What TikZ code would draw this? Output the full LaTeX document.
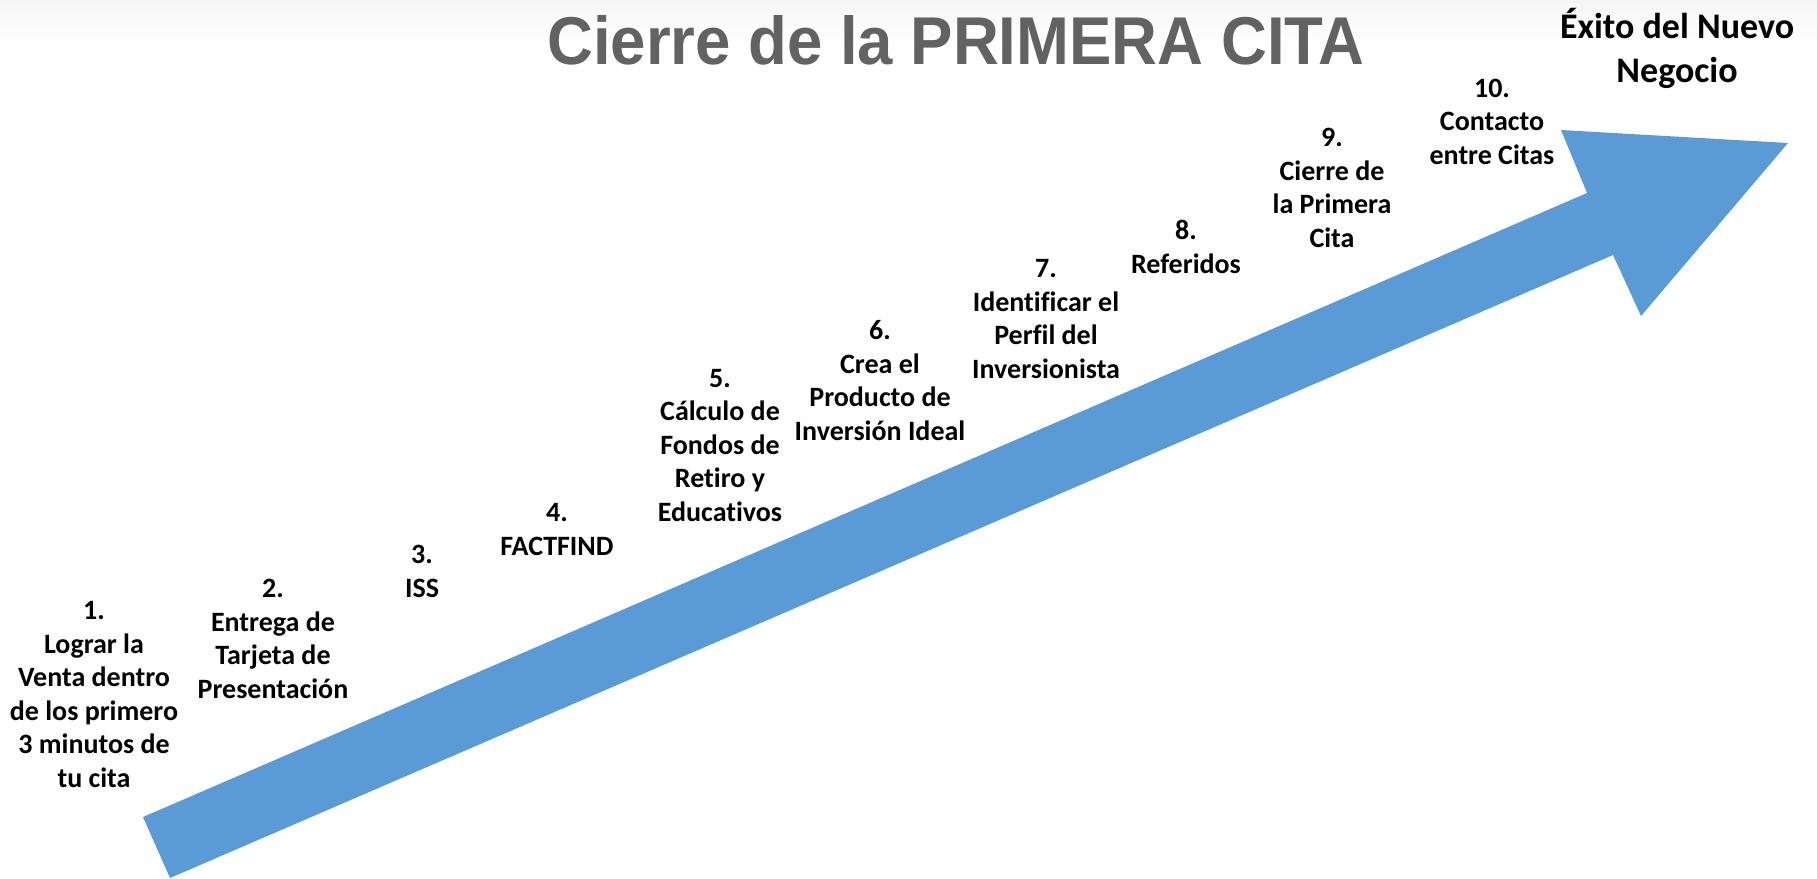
\documentclass[tikz,border=0pt]{standalone}
\usepackage{fontspec}
\setmainfont{Carlito}[Ligatures=CommonOff]
\newfontfamily\headfont{Liberation Sans}
\usepackage{graphicx}
\usetikzlibrary{positioning}
\definecolor{ArrowBlue}{HTML}{5B9BD5}
\definecolor{HeadGray} {HTML}{626262}
\definecolor{TopShade} {HTML}{F6F6F6}
\tikzset{
  lbl/.style={inner sep=0pt,anchor=base,align=center,
              font=\fontsize{28}{33.5}\selectfont\bfseries},
  goal/.style={inner sep=0pt,anchor=base,align=center,
               font=\fontsize{36}{44}\selectfont\bfseries},
  ttl/.style={inner sep=0pt,anchor=base,text=HeadGray,
              font=\fontsize{63.5}{70}\selectfont\headfont\bfseries},
}
\begin{document}
\begin{tikzpicture}[x=1pt,y=-1pt]
  \useasboundingbox (0,0) rectangle (1817,878);
  \shade[top color=TopShade,bottom color=white] (0,0) rectangle (1817,50);

  % the rising arrow
  \fill[ArrowBlue] (143,817) -- (1587,193) -- (1561,130) -- (1788,143)
    -- (1641,316) -- (1613,255) -- (170,878) -- cycle;

  \node[ttl] (title) at (956,64) {\scalebox{1}[1.065]{Cierre de la PRIMERA CITA}};
  \node[goal] (exito) at (1677,82) {Éxito del Nuevo\\Negocio};

  % steps along the arrow (placed by the baseline of their last line)
  \node[lbl] (s1)  at (94,787)   {1.\\Lograr la\\Venta dentro\\de los primero\\3 minutos de\\tu cita};
  \node[lbl] (s2)  at (273,698)  {2.\\Entrega de\\Tarjeta de\\Presentación};
  \node[lbl] (s3)  at (422,597)  {3.\\ISS};
  \node[lbl] (s4)  at (557,555)  {4.\\FACTFIND};
  \node[lbl] (s5)  at (720,521)  {5.\\Cálculo de\\Fondos de\\Retiro y\\Educativos};
  \node[lbl] (s6)  at (880,440)  {6.\\Crea el\\Producto de\\Inversión Ideal};
  \node[lbl] (s7)  at (1046,378) {7.\\Identificar el\\Perfil del\\Inversionista};
  \node[lbl] (s8)  at (1186,273) {8.\\Referidos};
  \node[lbl] (s9)  at (1332,247) {9.\\Cierre de\\la Primera\\Cita};
  \node[lbl] (s10) at (1492,164) {10.\\Contacto\\entre Citas};
\end{tikzpicture}
\end{document}
